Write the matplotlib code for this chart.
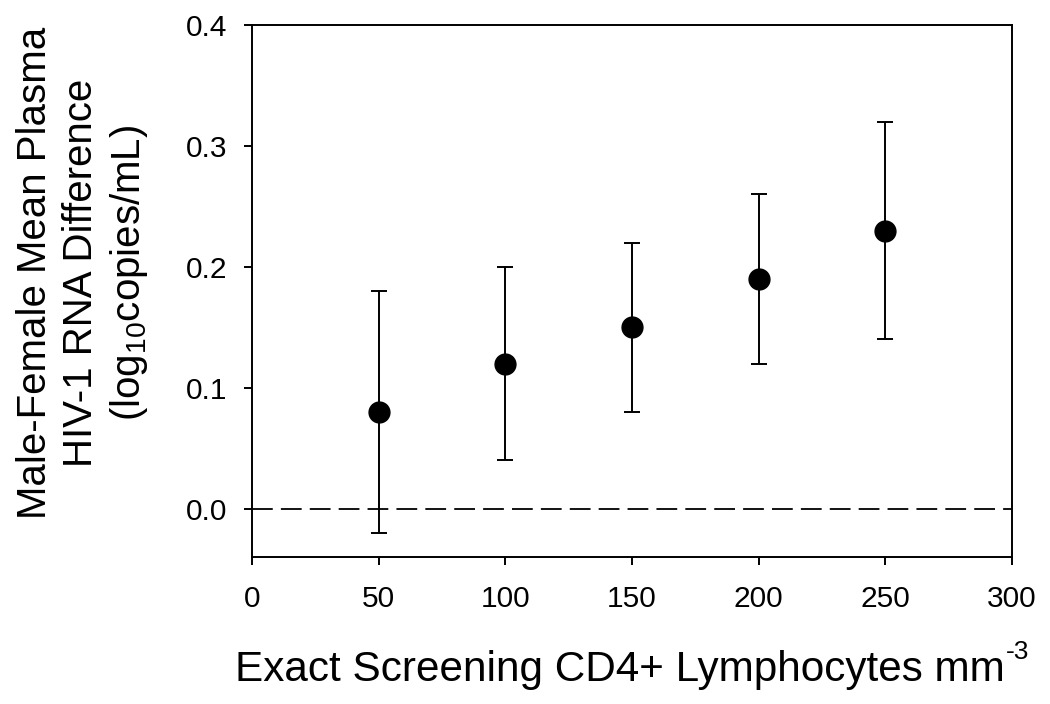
import matplotlib
matplotlib.use("Agg")
import matplotlib.pyplot as plt
import numpy as np

cd4 = [50, 100, 150, 200, 250]
mean_diff = [0.08, 0.12, 0.15, 0.19, 0.23]
ci_low = [-0.02, 0.04, 0.08, 0.12, 0.14]
ci_high = [0.18, 0.20, 0.22, 0.26, 0.32]
xticks = [0, 50, 100, 150, 200, 250, 300]
yticks = [0.0, 0.1, 0.2, 0.3, 0.4]

plt.rcParams['font.family'] = ['Liberation Sans', 'DejaVu Sans']
plt.rcParams['mathtext.fontset'] = 'custom'
plt.rcParams['mathtext.rm'] = 'Liberation Sans'
plt.rcParams['mathtext.it'] = 'Liberation Sans'
plt.rcParams['mathtext.bf'] = 'Liberation Sans'

fig = plt.figure(figsize=(10.5, 7.04), dpi=100)
ax = fig.add_axes([252/1050, 1-557/704, (1012-252)/1050, (557-25)/704])

m = np.array(mean_diff)
yerr = [m - np.array(ci_low), np.array(ci_high) - m]
ax.errorbar(cd4, mean_diff, yerr=yerr, fmt='o', color='black', ms=15,
            elinewidth=1.4, capsize=6, capthick=1.4, zorder=3)

ax.axhline(0, color='black', lw=1.3, dashes=(11.5, 4.5), zorder=1)

ax.set_xlim(0, 300)
ax.set_ylim(-0.04, 0.4)
ax.set_xticks(xticks)
ax.set_xticklabels([str(t) for t in xticks])
ax.set_yticks(yticks)
ax.set_yticklabels([f"{t:.1f}" for t in yticks])
for s in ax.spines.values():
    s.set_linewidth(1.4)
ax.tick_params(direction='out', length=6, width=1.4, labelsize=21.5, pad=12)
ax.tick_params(axis='x', pad=14)

xl = fig.text(620/1050, 1-681/704, "Exact Screening CD4+ Lymphocytes mm",
              ha='center', va='baseline', fontsize=30.4)
fig.draw_without_rendering()
ax.annotate("-3", xy=(1, 1-659/704), xycoords=(xl, 'figure fraction'),
            xytext=(0.5, 0), textcoords='offset points',
            ha='left', va='baseline', fontsize=19)

fig.text(83/1050, 1-273/704,
         "Male-Female Mean Plasma\nHIV-1 RNA Difference\n(log$_{10}$copies/mL)",
         ha='center', va='center', rotation=90, fontsize=29,
         multialignment='center', linespacing=1.25)

fig.savefig("out.png", dpi=100)
